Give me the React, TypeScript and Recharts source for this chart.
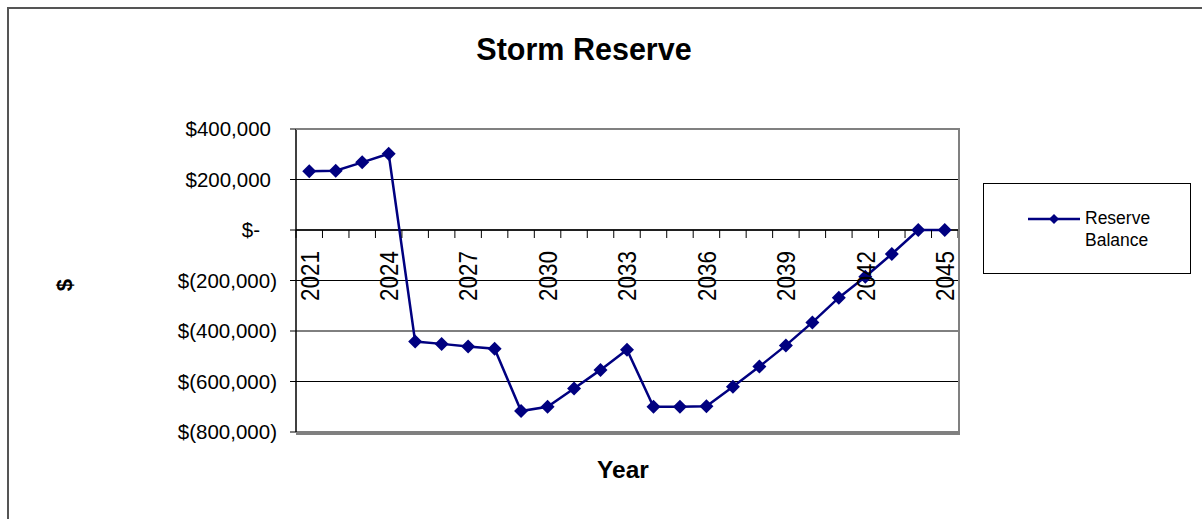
import { LineChart, Line, XAxis, YAxis, CartesianGrid, ReferenceLine } from 'recharts';

const FONT = '"Liberation Sans", Arial, sans-serif';
const NAVY = '#000080';

const YEARS = [
    2021, 2022, 2023, 2024, 2025, 2026, 2027, 2028, 2029, 2030, 2031, 2032, 2033,
    2034, 2035, 2036, 2037, 2038, 2039, 2040, 2041, 2042, 2043, 2044, 2045,
];

const RESERVE_BALANCE = [
    233000, 235000, 268000, 302000, -442000, -451000, -461000, -470000, -717000,
    -700000, -628000, -554000, -474000, -700000, -700000, -698000, -621000,
    -541000, -457000, -366000, -268000, -185000, -95000, 0, 0,
];

const Y_TICKS = [-800000, -600000, -400000, -200000, 0, 200000, 400000];
const SERIES_NAME = 'Reserve Balance';

const data = YEARS.map((year, i) => ({ year, balance: RESERVE_BALANCE[i] }));

// plot area box
const PLOT_LEFT = 296;
const PLOT_TOP = 129;
const PLOT_W = 662;
const PLOT_H = 303;
const Y_MIN = Y_TICKS[0];
const Y_MAX = Y_TICKS[Y_TICKS.length - 1];
const ZERO_Y = PLOT_TOP + (PLOT_H * Y_MAX) / (Y_MAX - Y_MIN);
const BAND = PLOT_W / YEARS.length;

const money = (v: number) => {
    if (v === 0) return '$-';
    const s = Math.abs(v).toLocaleString('en-US');
    return v < 0 ? `$(${s})` : `$${s}`;
};

const YTick = ({ x, y, payload }: any) => {
    const v = payload.value as number;
    const shift = v === 0 ? 30 : v > 0 ? 19 : 13;
    return (
        <text x={x - shift} y={y} dy="0.35em" textAnchor="end" fontSize={20.5} fontFamily={FONT} fill="#000">
            {money(v)}
        </text>
    );
};

const XTick = ({ x, payload, index }: any) => {
    const left = x - BAND / 2;
    const last = index === YEARS.length - 1;
    const ty = ZERO_Y + 21;
    return (
        <g>
            <line x1={left} x2={left} y1={ZERO_Y} y2={ZERO_Y + 8} stroke="#000" />
            {last && <line x1={x + BAND / 2} x2={x + BAND / 2} y1={ZERO_Y} y2={ZERO_Y + 8} stroke="#000" />}
            {index % 3 === 0 && (
                <text
                    x={0}
                    y={0}
                    dy="0.36em"
                    textAnchor="end"
                    transform={`translate(${x} ${ty}) scale(1.15 1) rotate(-90)`}
                    fontSize={22.5}
                    fontFamily={FONT}
                    fill="#000"
                >
                    {payload.value}
                </text>
            )}
        </g>
    );
};

const Diamond = ({ cx, cy }: any) => {
    if (cx == null || cy == null) return null;
    const r = 7;
    return <polygon points={`${cx},${cy - r} ${cx + r},${cy} ${cx},${cy + r} ${cx - r},${cy}`} fill={NAVY} />;
};

export default function App() {
    return (
        <div style={{ position: 'absolute', left: 0, top: 0, width: 1202, height: 519, background: '#fff', overflow: 'hidden', fontFamily: FONT }}>
            <div style={{ position: 'absolute', left: 7, top: 7, width: 1300, height: 600, borderTop: '2px solid #555', borderLeft: '2px solid #555' }} />

            <LineChart
                width={1202}
                height={519}
                data={data}
                margin={{ top: PLOT_TOP, right: 1202 - PLOT_LEFT - PLOT_W, bottom: 519 - PLOT_TOP - PLOT_H - 1, left: 0 }}
                style={{ position: 'absolute', left: 0, top: 0 }}
            >
                <CartesianGrid vertical={false} stroke="#000" strokeWidth={1} />
                <XAxis
                    dataKey="year"
                    scale="band"
                    interval={0}
                    height={1}
                    axisLine={false}
                    tickLine={false}
                    tick={<XTick />}
                />
                <YAxis
                    width={PLOT_LEFT}
                    domain={[Y_MIN, Y_MAX]}
                    ticks={Y_TICKS}
                    interval={0}
                    tickSize={6}
                    tickMargin={0}
                    axisLine={{ stroke: '#000', strokeWidth: 1.5 }}
                    tickLine={{ stroke: '#000' }}
                    tick={<YTick />}
                />
                <ReferenceLine y={0} stroke="#000" strokeWidth={1.5} />
                <Line
                    type="linear"
                    dataKey="balance"
                    name={SERIES_NAME}
                    stroke={NAVY}
                    strokeWidth={2.5}
                    dot={<Diamond />}
                    activeDot={false}
                    isAnimationActive={false}
                />
            </LineChart>

            <div style={{ position: 'absolute', left: PLOT_LEFT, top: PLOT_TOP - 1, width: PLOT_W, height: PLOT_H, borderTop: '2px solid #808080', borderRight: '2px solid #808080', borderBottom: '2px solid #808080', pointerEvents: 'none' }} />

            <div style={{ position: 'absolute', left: 384, top: 32, width: 400, textAlign: 'center', fontSize: 30.5, fontWeight: 'bold' }}>
                Storm Reserve
            </div>
            <div style={{ position: 'absolute', left: 523, top: 456, width: 200, textAlign: 'center', fontSize: 24.5, fontWeight: 'bold' }}>
                Year
            </div>
            <div style={{ position: 'absolute', left: 45, top: 270, width: 40, height: 30, lineHeight: '30px', textAlign: 'center', fontSize: 22, fontWeight: 'bold', transform: 'rotate(-90deg)' }}>
                $
            </div>

            <div style={{ position: 'absolute', left: 983, top: 183, width: 206, height: 89, border: '1px solid #000', background: '#fff' }}>
                <svg width={52} height={12} style={{ position: 'absolute', left: 44, top: 29 }}>
                    <line x1={0} x2={52} y1={6} y2={6} stroke={NAVY} strokeWidth={2.5} />
                    <polygon points="26,1 31,6 26,11 21,6" fill={NAVY} />
                </svg>
                <div style={{ position: 'absolute', left: 101, top: 23, fontSize: 17.5, lineHeight: '22px' }}>
                    Reserve
                    <br />
                    Balance
                </div>
            </div>
        </div>
    );
}
